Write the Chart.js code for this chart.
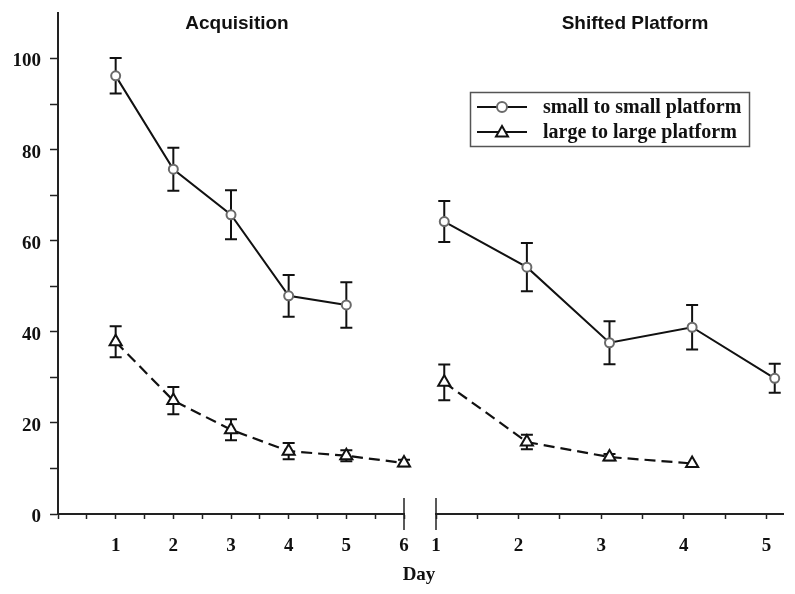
<!DOCTYPE html>
<html lang="en">
<head>
<meta charset="UTF-8">
<title>Acquisition / Shifted Platform</title>
<style>
body, html { margin: 0; padding: 0; background: #fff; }
#wrap { position: relative; width: 795px; height: 594px; }
#wrap canvas { position: absolute; left: 0; top: 0; }
</style>
<script src="https://cdn.jsdelivr.net/npm/chart.js"></script>
</head>
<body>
<div id="wrap">
    <canvas id="acqChart" width="795" height="594"></canvas>
    <canvas id="shiftChart" width="795" height="594"></canvas>
</div>
<script>
// --- data ---
const acqDays = [1, 2, 3, 4, 5, 6];
const acqSmall = [96.2, 75.7, 65.7, 47.9, 45.9];
const acqSmallErr = [3.9, 4.7, 5.4, 4.6, 5.0];
const acqLarge = [37.8, 24.9, 18.5, 13.8, 12.8, 11.2];
const acqLargeErr = [3.4, 3.0, 2.3, 1.8, 1.2, 0.7];

const shiftDays = [1, 2, 3, 4, 5];
const shiftSmall = [64.2, 54.2, 37.6, 41.0, 29.8];
const shiftSmallErr = [4.5, 5.3, 4.7, 4.9, 3.2];
const shiftLarge = [28.9, 15.8, 12.5, 11.1];
const shiftLargeErr = [3.9, 1.6, 0.7, 0];
const shiftOffset = 0.1; // points in the 2nd block sit slightly right of the day tick

const seriesNames = ['small to small platform', 'large to large platform'];
const yTicks = [0, 20, 40, 60, 80, 100];

const serif = "'Liberation Serif', 'Times New Roman', serif";
const sans = "'Liberation Sans', Arial, sans-serif";
const tickFont = { family: serif, size: 19, weight: 'bold' };
const ink = '#111';

function pts(days, vals, off) {
    return vals.map((v, i) => ({ x: days[i] + (off || 0), y: v }));
}

function smallSet(data, errs) {
    return {
        data: data, errors: errs,
        borderColor: ink, borderWidth: 2,
        pointStyle: 'circle', pointRadius: 4.5,
        pointBorderColor: '#6a6a6a', pointBackgroundColor: '#fff', pointBorderWidth: 2,
        clip: false
    };
}
function largeSet(data, errs) {
    return {
        data: data, errors: errs,
        borderColor: ink, borderWidth: 2.2, borderDash: [11, 6],
        pointStyle: 'triangle', pointRadius: 7,
        pointBorderColor: ink, pointBackgroundColor: '#fff', pointBorderWidth: 2,
        clip: false
    };
}

// error bars, drawn under the lines/markers
const errorBars = {
    id: 'errorBars',
    beforeDatasetsDraw(chart) {
        const { ctx, scales: { x, y } } = chart;
        ctx.save();
        ctx.strokeStyle = ink;
        ctx.lineWidth = 2;
        chart.data.datasets.forEach(ds => {
            ds.data.forEach((p, i) => {
                const e = ds.errors[i];
                if (!e) return;
                const px = x.getPixelForValue(p.x);
                const top = y.getPixelForValue(p.y + e);
                const bot = y.getPixelForValue(p.y - e);
                ctx.beginPath();
                ctx.moveTo(px, top); ctx.lineTo(px, bot);
                ctx.moveTo(px - 6, top); ctx.lineTo(px + 6, top);
                ctx.moveTo(px - 6, bot); ctx.lineTo(px + 6, bot);
                ctx.stroke();
            });
        });
        ctx.restore();
    }
};

// titles, axis break marks, "Day" label, legend box
const decor = {
    id: 'decor',
    afterDraw(chart, args, opts) {
        const { ctx, scales: { x, y } } = chart;
        ctx.save();
        ctx.fillStyle = ink;
        ctx.textAlign = 'center';
        ctx.textBaseline = 'middle';
        ctx.font = 'bold 19px ' + sans;
        ctx.fillText(opts.title, opts.titleX, 24);

        // axis break mark
        const bx = x.getPixelForValue(opts.breakAt);
        const by = y.getPixelForValue(0);
        ctx.strokeStyle = '#222';
        ctx.lineWidth = 1.5;
        ctx.beginPath();
        ctx.moveTo(bx, by - 16);
        ctx.lineTo(bx, by + 16);
        ctx.stroke();

        if (opts.dayLabel) {
            ctx.font = 'bold 19px ' + serif;
            ctx.fillText('Day', 419, 575);
        }

        if (opts.legend) {
            ctx.strokeStyle = '#555';
            ctx.lineWidth = 1.5;
            ctx.strokeRect(470.5, 92.5, 279, 54);
            ctx.font = 'bold 20px ' + serif;
            ctx.textAlign = 'left';
            const rows = [107, 132];
            rows.forEach((ry, i) => {
                ctx.strokeStyle = ink;
                ctx.lineWidth = 2;
                ctx.beginPath();
                ctx.moveTo(477, ry); ctx.lineTo(527, ry);
                ctx.stroke();
                ctx.fillStyle = '#fff';
                ctx.beginPath();
                if (i === 0) {
                    ctx.strokeStyle = '#6a6a6a';
                    ctx.arc(502, ry, 5, 0, Math.PI * 2);
                } else {
                    ctx.strokeStyle = ink;
                    ctx.moveTo(502, ry - 6);
                    ctx.lineTo(508, ry + 4.5);
                    ctx.lineTo(496, ry + 4.5);
                    ctx.closePath();
                }
                ctx.fill();
                ctx.stroke();
                ctx.fillStyle = ink;
                ctx.fillText(seriesNames[i], 543, ry + 1);
            });
        }
        ctx.restore();
    }
};

// half-day tick marks, labels on whole days only
function xScale(min, max, lastTick) {
    return {
        type: 'linear', min: min, max: max,
        afterFit: s => { s.height = 80; },
        afterBuildTicks: s => {
            const t = [];
            for (let v = min; v <= lastTick + 1e-9; v += 0.5) t.push({ value: v });
            s.ticks = t;
        },
        ticks: {
            autoSkip: false, maxRotation: 0, padding: 16,
            color: ink, font: tickFont,
            callback: v => (Number.isInteger(v) && v > 0) ? v : ''
        },
        grid: { drawOnChartArea: false, tickLength: 5, tickWidth: 1.5, tickColor: '#222' },
        border: { color: '#222', width: 2 }
    };
}

const common = {
    responsive: false,
    animation: false,
    events: [],
    plugins: { legend: { display: false }, tooltip: { enabled: false } }
};

new Chart(document.getElementById('acqChart'), {
    type: 'line',
    data: {
        datasets: [
            smallSet(pts(acqDays, acqSmall), acqSmallErr),
            largeSet(pts(acqDays, acqLarge), acqLargeErr)
        ]
    },
    options: {
        ...common,
        layout: { padding: { top: 13, left: 0, right: 391, bottom: 0 } },
        plugins: { ...common.plugins, decor: { title: 'Acquisition', titleX: 237, breakAt: 6, dayLabel: true } },
        scales: {
            x: xScale(0, 6, 6),
            y: {
                min: 0, max: 110,
                afterFit: s => { s.width = 58; s.paddingTop = 0; s.paddingBottom = 0; },
                afterBuildTicks: s => { s.ticks = s.ticks.filter(t => t.value <= 100); },
                ticks: {
                    stepSize: 10, padding: 9, labelOffset: 3, color: ink, font: tickFont,
                    callback: v => yTicks.includes(v) ? v : ''
                },
                grid: { drawOnChartArea: false, tickLength: 8, tickWidth: 1.5, tickColor: '#222' },
                border: { color: '#222', width: 2 }
            }
        }
    },
    plugins: [errorBars, decor]
});

new Chart(document.getElementById('shiftChart'), {
    type: 'line',
    data: {
        datasets: [
            smallSet(pts(shiftDays, shiftSmall, shiftOffset), shiftSmallErr),
            largeSet(pts(shiftDays, shiftLarge, shiftOffset), shiftLargeErr)
        ]
    },
    options: {
        ...common,
        layout: { padding: { top: 13, left: 436, right: 12, bottom: 0 } },
        plugins: { ...common.plugins, decor: { title: 'Shifted Platform', titleX: 635, breakAt: 1, legend: true } },
        scales: {
            x: xScale(1, 5.2, 5),
            y: { display: false, min: 0, max: 110 }
        }
    },
    plugins: [errorBars, decor]
});
</script>
</body>
</html>
